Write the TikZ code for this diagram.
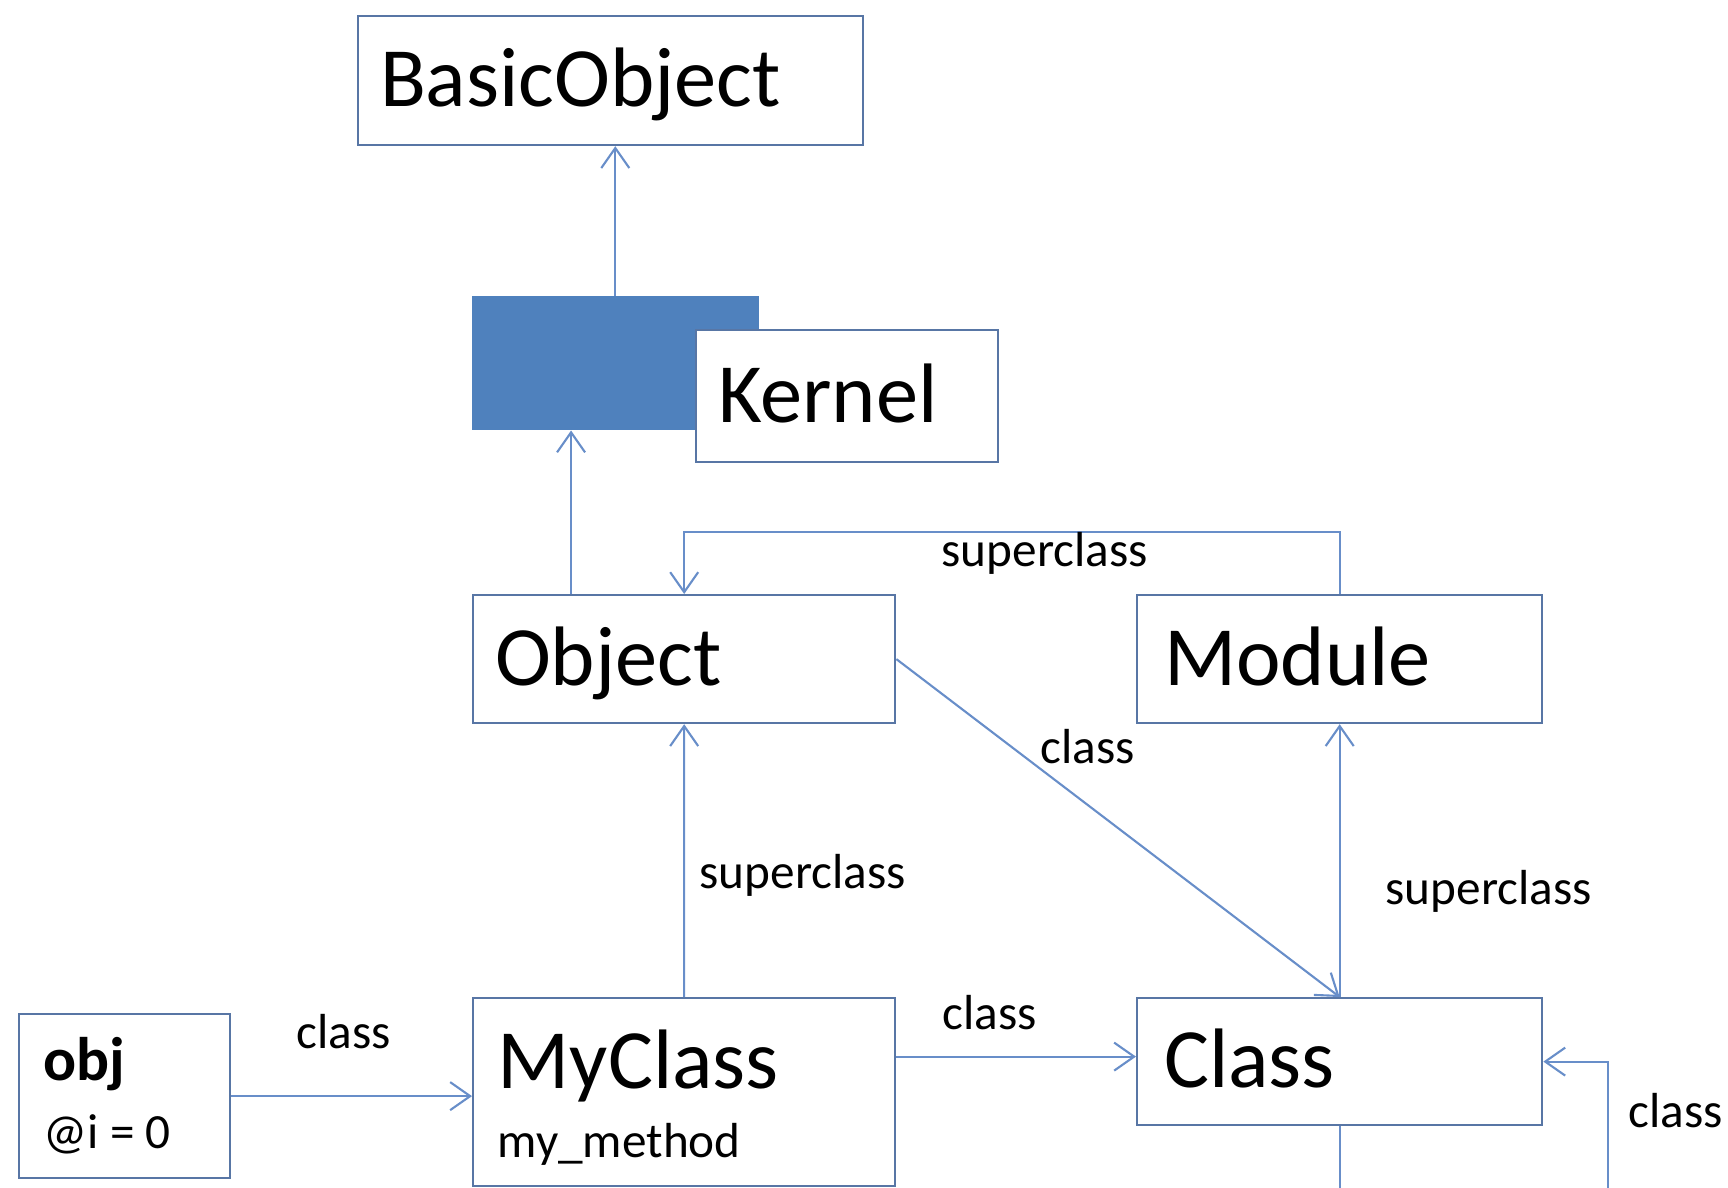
\documentclass[tikz,border=0pt]{standalone}
\usepackage{fontspec}
\setmainfont{Carlito}
\usetikzlibrary{arrows.meta}

\definecolor{boxline}{RGB}{88,118,165}
\definecolor{linkline}{RGB}{104,142,201}
\definecolor{mixfill}{RGB}{79,129,189}

\tikzset{
  box/.style={draw=boxline, fill=white, line width=0.6pt, anchor=north west, inner xsep=0.22cm, inner ysep=0pt, align=left, text height=0.6cm, text depth=0.08cm, font=\fontsize{24}{28}\selectfont},
  link/.style={draw=linkline, line width=0.6pt, -{Straight Barb[length=0.2cm,width=0.28cm]}},
  lbl/.style={anchor=base west, inner sep=0pt, font=\fontsize{14}{16}\selectfont},
  bigname/.style={anchor=base west, inner sep=0pt, font=\fontsize{24}{28}\selectfont},
}

\begin{document}
\begin{tikzpicture}[x=0.01cm,y=-0.01cm]
\useasboundingbox (0,0) rectangle (1728,1187);

% boxes
\node[box, text width=4.61cm, minimum height=1.29cm] (basic) at (357,15) {BasicObject};
\node[draw=mixfill, fill=mixfill, anchor=north west, inner sep=0pt, minimum width=2.85cm, minimum height=1.33cm] (kernelinc) at (472,296) {};
\node[box, text width=2.58cm, minimum height=1.32cm] (kernel) at (695,329) {Kernel};
\node[box, text width=3.78cm, minimum height=1.28cm] (object) at (472,594) {Object};
\node[box, inner xsep=0.27cm, text width=3.51cm, minimum height=1.28cm] (module) at (1136,594) {Module};
\node[box, inner xsep=0.27cm, text width=3.51cm, minimum height=1.27cm] (class) at (1136,997) {Class};
\node[box, minimum width=4.22cm, minimum height=1.88cm] (myclass) at (472,997) {};
\node[box, minimum width=2.11cm, minimum height=1.64cm] (obj) at (18,1013) {};

% texts inside the two-line boxes
\node[bigname] (myclassname) at (497,1088) {MyClass};
\node[lbl] (mymethod) at (497,1157) {my\_method};
\node[lbl, font=\bfseries\fontsize{17.5}{20}\selectfont] (objname) at (43,1080) {obj};
\node[lbl] (ivar) at (43,1148) {@i = 0};

% connectors
\draw[link] (kernelinc.north) -- (kernelinc.north |- basic.south);
\draw[link] ([xshift=0.99cm]object.north west) -- ([xshift=0.99cm]object.north west |- kernelinc.south);
\draw[link] (module.north) -- ++(0,-62) -| (object.north);
\draw[link] (object.east) -- (class.north);
\draw[link] (myclass.north) -- (object.south);
\draw[link] (class.north) -- (module.south);
\draw[link] ([yshift=0.05cm]myclass.east |- class.west) -- ([yshift=0.05cm]class.west);
\draw[link] (obj.east) -- (obj.east -| myclass.west);
\draw[link] (class.south) -- ++(0,63) -| ([xshift=0.65cm]class.east) -- (class.east);

% labels
\node[lbl] (supA) at (941,566) {superclass};
\node[lbl] (clsA) at (1040,763) {class};
\node[lbl] (supB) at (699,888) {superclass};
\node[lbl] (supC) at (1385,904) {superclass};
\node[lbl] (clsB) at (942,1029) {class};
\node[lbl] (clsC) at (296,1048) {class};
\node[lbl] (clsD) at (1628,1127) {class};

\end{tikzpicture}
\end{document}
